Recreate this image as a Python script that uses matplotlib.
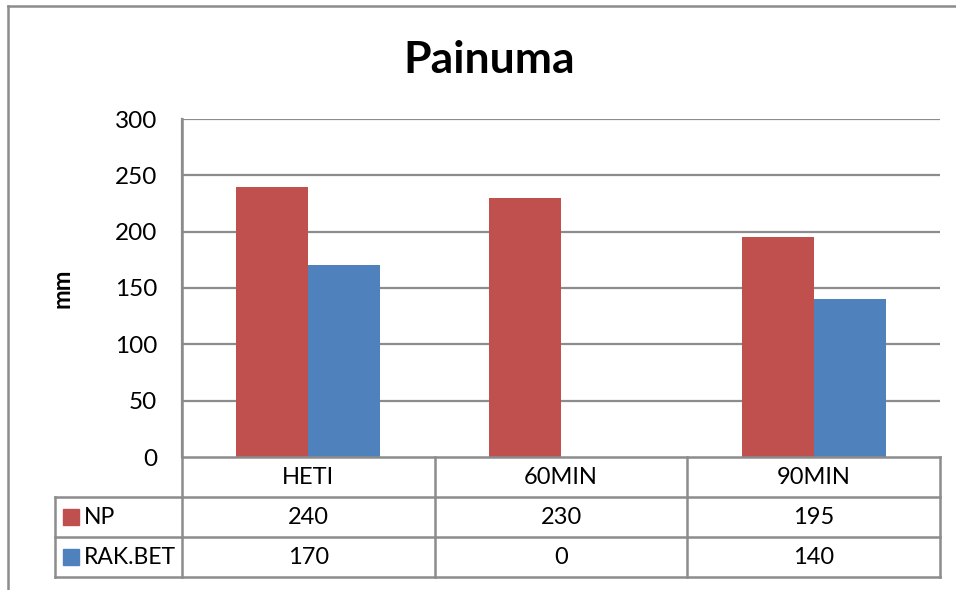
import matplotlib
matplotlib.use("Agg")
import matplotlib.pyplot as plt
from matplotlib.lines import Line2D
from matplotlib.patches import Rectangle

categories = ["HETI", "60MIN", "90MIN"]
series_names = ["NP", "RAK.BET"]
np_values = [240, 230, 195]
rak_values = [170, 0, 140]
yticks = [0, 50, 100, 150, 200, 250, 300]
colors = ["#C0504D", "#4F81BD"]

W, H = 956, 590
plt.rcParams["font.family"] = ["Lato", "DejaVu Sans"]
fig = plt.figure(figsize=(W / 100, H / 100), dpi=100)

def fx(x):
    return x / W

def fy(y):
    return 1 - y / H

grid_c = "#8C8C8C"
fs = 17

# plot area geometry (pixels)
L, R, T, B = 182, 940, 119, 457
ax = fig.add_axes([fx(L), fy(B), fx(R) - fx(L), fy(T) - fy(B)])
ax.set_xlim(0, 3)
ax.set_ylim(0, 300)
bw = 0.285
xs = [i + 0.5 for i in range(len(categories))]
ax.bar([x - bw / 2 for x in xs], np_values, width=bw, color=colors[0], zorder=3)
ax.bar([x + bw / 2 for x in xs], rak_values, width=bw, color=colors[1], zorder=3)
ax.set_yticks(yticks)
ax.set_yticklabels([str(v) for v in yticks], fontsize=fs + 0.5)
ax.tick_params(axis="y", length=0, pad=18)
ax.set_xticks([])
for v in yticks[1:]:
    ax.axhline(v, color=grid_c, lw=1.6, zorder=1)
for s in ["top", "right", "bottom"]:
    ax.spines[s].set_visible(False)
ax.spines["left"].set_color(grid_c)
ax.spines["left"].set_linewidth(1.6)

fig.text(fx(62), fy(288), "mm", fontsize=fs, fontweight="bold",
         rotation=90, ha="center", va="center")
fig.text(fx(489), fy(60), "Painuma", fontsize=32, fontweight="bold",
         ha="center", va="center")

# data table below the plot
def hline(x0, x1, y, lw=1.8):
    fig.add_artist(Line2D([fx(x0), fx(x1)], [fy(y), fy(y)], color=grid_c, lw=lw))

def vline(x, y0, y1, lw=1.8):
    fig.add_artist(Line2D([fx(x), fx(x)], [fy(y0), fy(y1)], color=grid_c, lw=lw))

col_edges = [L + (R - L) * i / 3 for i in range(4)]
row_edges = [457, 497, 537, 577]
left_col = 55
hline(L, R, row_edges[0])
hline(left_col, R, row_edges[1])
hline(left_col, R, row_edges[2])
hline(left_col, R, row_edges[3])
for x in col_edges:
    vline(x, row_edges[0], row_edges[3])
vline(L, T, B)
vline(left_col, row_edges[1], row_edges[3])

for i, c in enumerate(categories):
    cx = (col_edges[i] + col_edges[i + 1]) / 2
    fig.text(fx(cx), fy(478), c, fontsize=fs, ha="center", va="center")
for r, (name, vals, col) in enumerate(zip(series_names, [np_values, rak_values], colors)):
    cy = (row_edges[r + 1] + row_edges[r + 2]) / 2
    fig.add_artist(Rectangle((fx(63), fy(cy + 8)), fx(16), fy(0) - fy(16),
                             color=col, transform=fig.transFigure))
    fig.text(fx(84), fy(cy), name, fontsize=fs - 0.5, ha="left", va="center")
    for i, v in enumerate(vals):
        cx = (col_edges[i] + col_edges[i + 1]) / 2
        fig.text(fx(cx), fy(cy), str(v), fontsize=fs, ha="center", va="center")

# outer chart frame
fig.add_artist(Line2D([fx(8), fx(8)], [fy(6), fy(H + 5)], color=grid_c, lw=1.8))
fig.add_artist(Line2D([fx(8), fx(W + 5)], [fy(6), fy(6)], color=grid_c, lw=1.8))

fig.savefig("out.png", dpi=100)
